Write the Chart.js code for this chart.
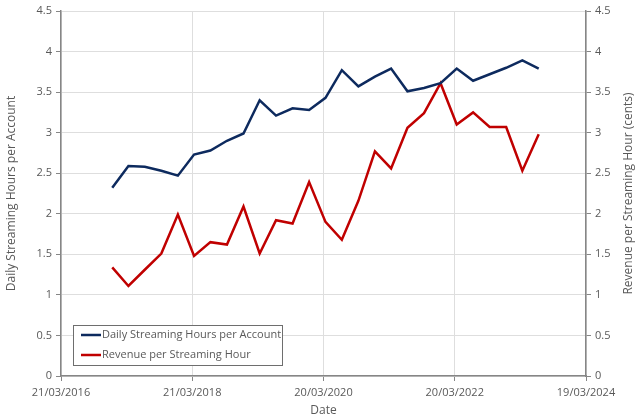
<!DOCTYPE html>
<html>
<head>
<meta charset="utf-8">
<script src="https://cdn.jsdelivr.net/npm/chart.js@4/dist/chart.umd.min.js"></script>
<style>
  body { margin: 0; background: #fff; }
  canvas { display: block; }
</style>
</head>
<body>
<canvas id="streamChart" width="640" height="418"></canvas>
<script>
// quarter-end dates
const dates = [
  '2016-12-31',
  '2017-03-31', '2017-06-30', '2017-09-30', '2017-12-31',
  '2018-03-31', '2018-06-30', '2018-09-30', '2018-12-31',
  '2019-03-31', '2019-06-30', '2019-09-30', '2019-12-31',
  '2020-03-31', '2020-06-30', '2020-09-30', '2020-12-31',
  '2021-03-31', '2021-06-30', '2021-09-30', '2021-12-31',
  '2022-03-31', '2022-06-30', '2022-09-30', '2022-12-31',
  '2023-03-31', '2023-06-30'
];
const hoursPerAccount = [
  2.32, 2.59, 2.58, 2.53, 2.47, 2.73, 2.78, 2.90, 2.99, 3.40,
  3.21, 3.30, 3.28, 3.43, 3.77, 3.57, 3.69, 3.79, 3.51, 3.55,
  3.61, 3.79, 3.64, 3.72, 3.80, 3.89, 3.79
];
const revenuePerHour = [
  1.34, 1.11, 1.31, 1.51, 1.99, 1.48, 1.65, 1.62, 2.09, 1.51,
  1.92, 1.88, 2.39, 1.90, 1.68, 2.16, 2.77, 2.56, 3.06, 3.24,
  3.61, 3.10, 3.25, 3.07, 3.07, 2.53, 2.98
];
const axisStart = '2016-03-21';
const axisEnd = '2024-03-19';
const majorUnitDays = 730;
const rightTitle = 'Revenue per Streaming Hour (cents)';

const DAY = 86400000;
function toDay(s) {
  const p = s.split('-').map(Number);
  return Date.UTC(p[0], p[1] - 1, p[2]) / DAY;
}
function fmtDay(d) {
  const dt = new Date(d * DAY);
  const dd = String(dt.getUTCDate()).padStart(2, '0');
  const mm = String(dt.getUTCMonth() + 1).padStart(2, '0');
  return dd + '/' + mm + '/' + dt.getUTCFullYear();
}

const xMin = toDay(axisStart);
const xMax = toDay(axisEnd);

const TEXT = '#595959';
const GRID = '#dedede';
const AXIS = '#868686';
const FONT = "'Open Sans', 'Liberation Sans', sans-serif";

Chart.defaults.font.family = FONT;
Chart.defaults.font.size = 11;
Chart.defaults.color = TEXT;

// legend box inside the plot + right axis title read bottom to top
const extras = {
  id: 'extras',
  afterDraw(chart) {
    const ctx = chart.ctx;
    const a = chart.chartArea;
    const x0 = a.left + 12, y0 = a.bottom - 51, w = 209, h = 40;
    ctx.save();
    ctx.fillStyle = '#fff';
    ctx.fillRect(x0, y0, w, h);
    ctx.strokeStyle = '#6e6e6e';
    ctx.lineWidth = 1;
    ctx.strokeRect(x0 + 0.5, y0 + 0.5, w, h);
    ctx.font = '11px ' + FONT;
    ctx.textBaseline = 'middle';
    chart.data.datasets.forEach((ds, i) => {
      const y = y0 + 10 + i * 20;
      ctx.strokeStyle = ds.borderColor;
      ctx.lineWidth = 2.5;
      ctx.beginPath();
      ctx.moveTo(x0 + 8, y);
      ctx.lineTo(x0 + 28, y);
      ctx.stroke();
      ctx.fillStyle = TEXT;
      ctx.fillText(ds.label, x0 + 29, y);
    });

    ctx.translate(chart.width - 11, (a.top + a.bottom) / 2);
    ctx.rotate(-Math.PI / 2);
    ctx.font = '12px ' + FONT;
    ctx.textAlign = 'center';
    ctx.fillStyle = TEXT;
    ctx.fillText(rightTitle, 0, 0);
    ctx.restore();
  }
};

const yAxisBase = {
  type: 'linear',
  min: 0,
  max: 4.5,
  ticks: { stepSize: 0.5, padding: 4, font: { size: 11 }, color: TEXT, callback: v => String(v) },
  border: { display: true, color: AXIS, width: 1.5 }
};

new Chart(document.getElementById('streamChart'), {
  type: 'line',
  data: {
    datasets: [
      {
        label: 'Daily Streaming Hours per Account',
        data: dates.map((d, i) => ({ x: toDay(d), y: hoursPerAccount[i] })),
        borderColor: '#0d2a5e',
        borderWidth: 2.5,
        pointRadius: 0,
        tension: 0,
        yAxisID: 'y'
      },
      {
        label: 'Revenue per Streaming Hour',
        data: dates.map((d, i) => ({ x: toDay(d), y: revenuePerHour[i] })),
        borderColor: '#c00000',
        borderWidth: 2.5,
        pointRadius: 0,
        tension: 0,
        yAxisID: 'y1'
      }
    ]
  },
  options: {
    responsive: false,
    animation: false,
    layout: { padding: { top: 11, left: 0, right: 0, bottom: 0 } },
    plugins: { legend: { display: false }, tooltip: { enabled: false } },
    scales: {
      x: {
        type: 'linear',
        min: xMin,
        max: xMax,
        afterBuildTicks: axis => {
          axis.ticks = [];
          for (let v = xMin; v <= xMax; v += majorUnitDays) axis.ticks.push({ value: v });
        },
        afterFit: axis => { axis.height = 42; },
        ticks: { callback: v => fmtDay(v), maxRotation: 0, padding: 5, font: { size: 11 }, color: TEXT },
        grid: { color: GRID, tickColor: AXIS, tickLength: 5 },
        border: { display: true, color: AXIS, width: 1.5 },
        title: { display: true, text: 'Date', font: { size: 12 }, color: TEXT, padding: 0 }
      },
      y: Object.assign({}, yAxisBase, {
        position: 'left',
        afterFit: axis => { axis.width = 61; },
        grid: { color: GRID, tickColor: AXIS, tickLength: 5 },
        title: { display: true, text: 'Daily Streaming Hours per Account', font: { size: 12 }, color: TEXT, padding: { top: 4, bottom: 0 } }
      }),
      y1: Object.assign({}, yAxisBase, {
        position: 'right',
        afterFit: axis => { axis.width = 54; },
        grid: { drawOnChartArea: false, color: AXIS, tickColor: AXIS, tickLength: 5 },
        title: { display: false }
      })
    }
  },
  plugins: [extras]
});
</script>
</body>
</html>
